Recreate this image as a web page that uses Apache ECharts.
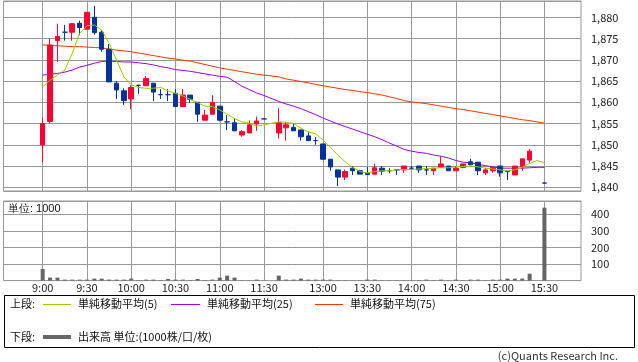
<!DOCTYPE html>
<html><head><meta charset="utf-8">
<script src="https://cdn.jsdelivr.net/npm/echarts@6/dist/echarts.min.js"></script>
<style>html,body{margin:0;padding:0;background:#fff}#c{width:638px;height:362px}</style>
</head><body><div id="c"></div><script>
// ---- data ----
// slot index: 0 = 9:00 ... 30 = 11:30, 31 = lunch gap, 32 = 12:30 ... 68 = 15:30
const tickSlots  = [0, 6, 12, 18, 24, 30, 38, 44, 50, 56, 62, 68];
const tickLabels = ['9:00','9:30','10:00','10:30','11:00','11:30','13:00','13:30','14:00','14:30','15:00','15:30'];
const priceTicks = [1840, 1845, 1850, 1855, 1860, 1865, 1870, 1875, 1880];
const volumeTicks = [100, 200, 300, 400];

const candleSlots = [0,1,2,3,4,5,6,7,8,9,10,11,12,13,14,15,16,17,18,19,20,21,22,23,24,25,26,27,28,29,30,
  32,33,34,35,36,37,38,39,40,41,42,43,44,45,46,47,48,49,50,51,52,53,54,55,56,57,58,59,60,61,62,63,64,65,66,68];
const opens  = [1850,1855.5,1874.5,1876.5,1876.5,1878.6,1877.2,1880,1876.5,1872.5,1864.5,1862.7,1860.8,1864,1863.9,1864.5,1861.8,1861.8,1862.1,1859,1861.7,1860,1855.8,1857.2,1859.1,1855.4,1855.2,1852.3,1852.8,1854.9,1856.1,
  1852.8,1854,1854.1,1853.5,1852.1,1851,1850.2,1846.6,1844.1,1842.4,1844.5,1843.9,1843.3,1843.1,1844.5,1843.9,1844.1,1844.1,1844.5,1845,1844.1,1843.9,1844.7,1845,1843.9,1844.7,1846,1845.9,1843.4,1843.9,1845,1843.7,1842.9,1844.8,1846.4,1841];
const closes = [1855,1873.5,1875.5,1876.5,1878.5,1877.6,1881.2,1876.4,1872.5,1864.8,1862.9,1860.4,1863.5,1864,1865.6,1862.4,1861.8,1861.8,1859,1861.7,1860.7,1857.2,1857,1860,1855.8,1855.4,1853.3,1853.1,1854.7,1855.6,1856.1,
  1855.2,1854.7,1853.3,1851.9,1851,1851,1846.6,1844.8,1842.4,1843.7,1843.9,1843.1,1843,1844.6,1843.8,1843.9,1844.1,1845,1844.5,1844.1,1844.1,1844.5,1845.5,1843.9,1844.5,1845.5,1845.3,1843.9,1844.1,1844.7,1843.4,1843.7,1845,1846.7,1848.5,1841];
const lows   = [1846,1855,1869.5,1874.5,1874.5,1875.8,1877.2,1875.9,1871.9,1864.8,1860.8,1859.4,1858.4,1862,1863.9,1860.3,1860.8,1860.3,1859,1859,1859.9,1855.4,1855.8,1857.2,1855.5,1853.5,1853.3,1851.9,1852.8,1853.3,1856.1,
  1851.5,1851,1853.3,1851,1851,1850,1846.6,1843.9,1840.3,1841.7,1842.9,1843.1,1843,1843.1,1842.9,1843.3,1842.9,1843.4,1844.1,1843.4,1842.9,1842.9,1844.7,1843.9,1843.9,1844.5,1845.3,1842.9,1842.9,1843.4,1842.5,1841.7,1842.9,1843.9,1845.8,1841];
const highs  = [1856.5,1875,1878.5,1878.2,1878.6,1879.2,1881.2,1882.7,1877,1873.7,1865,1863.3,1864,1864,1866.2,1864.5,1863.1,1863.1,1863.1,1863.1,1861.7,1860,1858.2,1861.7,1859.1,1857,1856.2,1853.5,1855.7,1856.6,1856.1,
  1858.6,1855.4,1855.1,1853.5,1853.1,1851.8,1850.2,1846.6,1844.1,1844.2,1845,1844,1844.8,1845.5,1845,1844.5,1844.1,1845,1845,1845,1845,1844.5,1847.4,1845,1845,1845.5,1846.7,1846,1844.6,1845,1845,1843.7,1845,1846.7,1849,1841];

// moving averages per slot (null = no value)
const ma5 = [1863.7,1865.2,1866.4,1867.6,1871.5,1876.2,1878,1878.2,1877,1873.9,1870,1866,1864.1,1863.5,1863.3,1863.3,1863.5,1862.7,1862.1,1861.5,1860.7,1859.9,1859.1,1859,1858.2,1857.2,1856.2,1855.4,1855.1,1854.4,1854.7,null,
  1855.4,1855.3,1855,1853.9,1853,1852.6,1851.1,1849.4,1847.6,1846,1844.7,1843.7,1843.4,1843.7,1843.9,1843.9,1844.1,1844.2,1844.2,1844.3,1844.4,1844.5,1844.6,1844.6,1844.8,1844.9,1845,1844.8,1844.5,1844.3,1844.1,1843.9,1844.1,1844.7,1845.6,1846.3,1845.8];
const ma25 = [1866.4,1866.6,1866.8,1867.1,1867.6,1868.3,1868.7,1869.2,1869.6,1869.7,1869.6,1869.5,1869.5,1869.3,1869.1,1868.8,1868.4,1868.1,1867.7,1867.5,1867.3,1867,1866.7,1866.4,1866.1,1865.9,1864.9,1863.8,1863,1862.2,1861.6,null,
  1860.2,1859.6,1859.1,1858.5,1857.8,1857.1,1856.3,1855.6,1854.9,1854.3,1853.7,1853.1,1852.5,1851.9,1851.2,1850.4,1849.7,1848.9,1848.5,1848.2,1848,1847.6,1847.3,1846.9,1846.3,1845.9,1845.8,1845.4,1845.1,1844.8,1844.5,1844.5,1844.5,1844.5,1844.6,1844.7,1844.7];
const ma75 = [1873.5,1873.4,1873.3,1873.2,1873.1,1873.1,1873,1872.9,1872.8,1872.5,1872.3,1872.1,1871.9,1871.6,1871.3,1871,1870.7,1870.4,1870.2,1869.9,1869.7,1869.3,1868.9,1868.5,1868.1,1867.8,1867.5,1867.2,1866.9,1866.6,1866.4,null,
  1866,1865.5,1865.2,1864.9,1864.6,1864.2,1863.9,1863.6,1863.3,1863,1862.8,1862.5,1862.3,1862,1861.7,1861.3,1860.9,1860.4,1860.1,1859.9,1859.7,1859.4,1859.1,1858.8,1858.5,1858.3,1858,1857.7,1857.4,1857.1,1856.8,1856.5,1856.2,1855.9,1855.7,1855.4,1855.1];
// volume (x1000) per slot
const volume = [70,18,18,6,6,6,6,12,12,6,6,6,12,3,6,6,3,10,6,6,3,10,3,6,18,30,18,2,2,6,1,null,
  30,6,6,12,6,6,6,6,2,2,2,2,6,6,2,2,2,2,2,2,6,2,6,2,6,2,6,6,2,6,6,12,12,12,42,null,440];

// ---- build ----
const FONT = '"Noto Sans CJK JP", "Noto Sans", sans-serif';
function pairs(arr){ const out=[]; arr.forEach((v,i)=>{ if(v!==null) out.push([i,v]); }); return out; }
const candleData = candleSlots.map((s,k)=>[s, opens[k], closes[k], lows[k], highs[k]]);
function fmtComma(v){ return String(v).replace(/\B(?=(\d{3})+(?!\d))/g, ','); }

const X_MIN = -5.31, X_MAX = 72.96;
const gridColor = '#999';

const chart = echarts.init(document.getElementById('c'), null, {renderer:'canvas'});
chart.setOption({
  animation: false,
  backgroundColor: '#fff',
  textStyle: {fontFamily: FONT},
  grid: [
    {left: 3.5, width: 577.5, top: 1, height: 190, show: true, borderColor: gridColor, borderWidth: 1, backgroundColor: 'transparent'},
    {left: 3.5, width: 577.5, top: 201, height: 79.6, show: true, borderColor: gridColor, borderWidth: 1, backgroundColor: 'transparent'}
  ],
  xAxis: [
    {type: 'value', gridIndex: 0, min: X_MIN, max: X_MAX,
     axisLine: {show: false}, axisTick: {show: false, customValues: tickSlots},
     axisLabel: {show: false, customValues: tickSlots},
     splitLine: {show: true, lineStyle: {color: gridColor, width: 1}}},
    {type: 'value', gridIndex: 1, min: X_MIN, max: X_MAX,
     axisLine: {show: false}, axisTick: {show: false, customValues: tickSlots},
     axisLabel: {show: true, customValues: tickSlots, margin: 2, color: '#222', fontSize: 11, fontFamily: FONT,
       formatter: v => { const k = tickSlots.indexOf(Math.round(v)); return k >= 0 ? tickLabels[k] : ''; }},
     splitLine: {show: true, lineStyle: {color: gridColor, width: 1}}}
  ],
  yAxis: [
    {type: 'value', gridIndex: 0, position: 'right', min: 1839.13, max: 1883.84,
     splitNumber: 9, minInterval: 5, maxInterval: 5, scale: true,
     axisLine: {show: false},
     axisTick: {show: true, length: 6, lineStyle: {color: gridColor}},
     axisLabel: {color: '#222', fontSize: 11, margin: 10, fontFamily: FONT,
       formatter: v => priceTicks.indexOf(Math.round(v*100)/100) >= 0 ? fmtComma(v) : ''},
     splitLine: {show: true, lineStyle: {color: gridColor, width: 1}}},
    {type: 'value', gridIndex: 1, position: 'right', min: 0, max: 480,
     splitNumber: 5, minInterval: 100, maxInterval: 100,
     axisLine: {show: false},
     axisTick: {show: true, length: 6, lineStyle: {color: gridColor}},
     axisLabel: {color: '#222', fontSize: 11, margin: 10, fontFamily: FONT,
       formatter: v => volumeTicks.indexOf(Math.round(v)) >= 0 ? String(v) : ''},
     splitLine: {show: true, lineStyle: {color: gridColor, width: 1}}}
  ],
  series: [
    {type: 'line', name: '単純移動平均(75)', xAxisIndex: 0, yAxisIndex: 0, data: pairs(ma75),
     showSymbol: false, symbol: 'none', lineStyle: {color: '#ff3300', width: 1}, clip: false, z: 3},
    {type: 'line', name: '単純移動平均(25)', xAxisIndex: 0, yAxisIndex: 0, data: pairs(ma25),
     showSymbol: false, symbol: 'none', lineStyle: {color: '#9900ff', width: 1}, clip: false, z: 3},
    {type: 'candlestick', name: 'price', xAxisIndex: 0, yAxisIndex: 0,
     dimensions: ['slot','open','close','lowest','highest'],
     encode: {x: 'slot', y: ['open','close','lowest','highest']},
     data: candleData, barWidth: 5, clip: false,
     itemStyle: {color: '#ff0033', color0: '#003399', borderColor: '#ff0033', borderColor0: '#003399',
       borderColorDoji: '#003399', borderWidth: 1}, z: 4},
    {type: 'line', name: '単純移動平均(5)', xAxisIndex: 0, yAxisIndex: 0, data: pairs(ma5),
     showSymbol: false, symbol: 'none', lineStyle: {color: '#99cc00', width: 1}, clip: false, z: 5},
    {type: 'bar', name: '出来高', xAxisIndex: 1, yAxisIndex: 1, data: pairs(volume),
     barWidth: 4, itemStyle: {color: '#666666'}, clip: false}
  ],
  graphic: [
    {type: 'text', left: 8, top: 203, style: {text: '単位: 1000', fontSize: 11, fill: '#111', font: '11px ' + FONT}},
    {type: 'rect', shape: {x: 4.5, y: 295.5, width: 630, height: 52}, style: {fill: 'none', stroke: '#000', lineWidth: 1}},
    {type: 'text', x: 10, y: 304, style: {text: '上段:', font: '11px ' + FONT, fill: '#111', textVerticalAlign: 'middle'}},
    {type: 'line', shape: {x1: 43, y1: 304.5, x2: 71, y2: 304.5}, style: {stroke: '#99cc00', lineWidth: 1}},
    {type: 'text', x: 78, y: 304, style: {text: '単純移動平均(5)', font: '11px ' + FONT, fill: '#111', textVerticalAlign: 'middle'}},
    {type: 'line', shape: {x1: 171, y1: 304.5, x2: 200, y2: 304.5}, style: {stroke: '#9900ff', lineWidth: 1}},
    {type: 'text', x: 207, y: 304, style: {text: '単純移動平均(25)', font: '11px ' + FONT, fill: '#111', textVerticalAlign: 'middle'}},
    {type: 'line', shape: {x1: 315, y1: 304.5, x2: 343, y2: 304.5}, style: {stroke: '#ff3300', lineWidth: 1}},
    {type: 'text', x: 350, y: 304, style: {text: '単純移動平均(75)', font: '11px ' + FONT, fill: '#111', textVerticalAlign: 'middle'}},
    {type: 'text', x: 10, y: 337, style: {text: '下段:', font: '11px ' + FONT, fill: '#111', textVerticalAlign: 'middle'}},
    {type: 'line', shape: {x1: 43, y1: 337, x2: 71, y2: 337}, style: {stroke: '#666666', lineWidth: 4}},
    {type: 'text', x: 78, y: 337, style: {text: '出来高 単位:(1000株/口/枚)', font: '11px ' + FONT, fill: '#111', textVerticalAlign: 'middle'}},
    {type: 'text', x: 618, y: 356, style: {text: '(c)Quants Research Inc.', font: '11px ' + FONT, fill: '#333', textAlign: 'right', textVerticalAlign: 'middle'}}
  ]
});
</script></body></html>
